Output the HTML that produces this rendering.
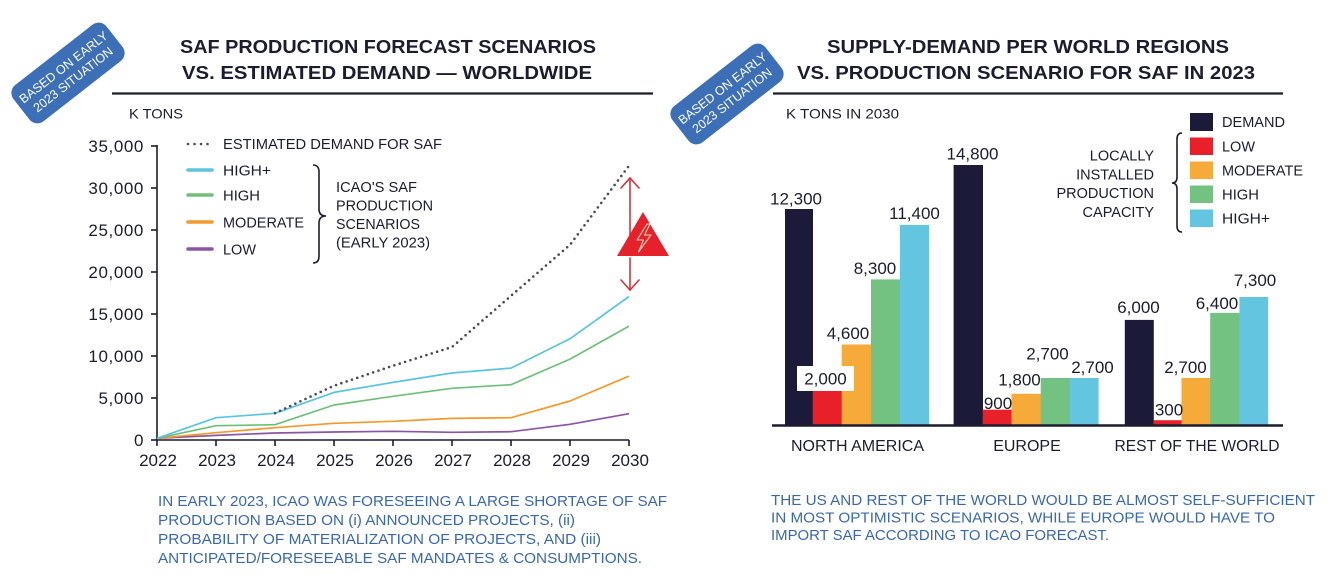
<!DOCTYPE html>
<html><head><meta charset="utf-8">
<style>
html,body{margin:0;padding:0;background:#fff;}
svg{display:block;}
text{font-family:"Liberation Sans",Arial,sans-serif;}
</style></head>
<body>
<svg width="1330" height="586" viewBox="0 0 1330 586" xmlns="http://www.w3.org/2000/svg">
<rect width="1330" height="586" fill="#fff"/>

<!-- ===== LEFT CHART ===== -->
<g transform="translate(68,73) rotate(-38)">
  <rect x="-59" y="-23" width="118" height="46" rx="10" fill="#3d6fb7"/>
  <text x="0" y="-3" text-anchor="middle" font-size="12.5" fill="#fff">BASED ON EARLY</text>
  <text x="0" y="12.5" text-anchor="middle" font-size="12.5" fill="#fff">2023 SITUATION</text>
</g>

<text x="180" y="53" font-size="18" font-weight="bold" fill="#1c1c30" textLength="416" lengthAdjust="spacingAndGlyphs">SAF PRODUCTION FORECAST SCENARIOS</text>
<text x="182" y="79" font-size="18" font-weight="bold" fill="#1c1c30" textLength="410" lengthAdjust="spacingAndGlyphs">VS. ESTIMATED DEMAND — WORLDWIDE</text>
<line x1="112" y1="93.5" x2="653" y2="93.5" stroke="#1c1c30" stroke-width="2.2"/>

<text x="129" y="118.5" font-size="14" fill="#1c1c30" textLength="54" lengthAdjust="spacingAndGlyphs">K TONS</text>

<g font-size="17" fill="#1c1c30" text-anchor="end" letter-spacing="0.6">
  <text x="144" y="152">35,000</text>
  <text x="144" y="194">30,000</text>
  <text x="144" y="236">25,000</text>
  <text x="144" y="278">20,000</text>
  <text x="144" y="320">15,000</text>
  <text x="144" y="362">10,000</text>
  <text x="144" y="404">5,000</text>
  <text x="144" y="446">0</text>
</g>
<g stroke="#1c1c30" stroke-width="1.6">
  <line x1="157" y1="145" x2="157" y2="446"/>
  <line x1="157" y1="440" x2="629" y2="440"/>
  <line x1="151" y1="146" x2="157" y2="146"/>
  <line x1="151" y1="188" x2="157" y2="188"/>
  <line x1="151" y1="230" x2="157" y2="230"/>
  <line x1="151" y1="272" x2="157" y2="272"/>
  <line x1="151" y1="314" x2="157" y2="314"/>
  <line x1="151" y1="356" x2="157" y2="356"/>
  <line x1="151" y1="398" x2="157" y2="398"/>
  <line x1="151" y1="440" x2="157" y2="440"/>
  <line x1="216" y1="440" x2="216" y2="446"/>
  <line x1="275" y1="440" x2="275" y2="446"/>
  <line x1="334" y1="440" x2="334" y2="446"/>
  <line x1="393" y1="440" x2="393" y2="446"/>
  <line x1="452" y1="440" x2="452" y2="446"/>
  <line x1="511" y1="440" x2="511" y2="446"/>
  <line x1="570" y1="440" x2="570" y2="446"/>
  <line x1="629" y1="440" x2="629" y2="446"/>
</g>
<g font-size="17" fill="#1c1c30" text-anchor="middle">
  <text x="158" y="466">2022</text>
  <text x="217" y="466">2023</text>
  <text x="276" y="466">2024</text>
  <text x="335" y="466">2025</text>
  <text x="394" y="466">2026</text>
  <text x="453" y="466">2027</text>
  <text x="512" y="466">2028</text>
  <text x="571" y="466">2029</text>
  <text x="630" y="466">2030</text>
</g>

<g fill="none" stroke-width="1.7" stroke-linejoin="round">
  <polyline stroke="#8b55a3" points="157,438.3 216,435.4 275,433 334,432 393,431.3 452,432.3 511,431.7 570,424.3 629,413.7"/>
  <polyline stroke="#f39a2b" points="157,438.3 216,432.7 275,427.7 334,423.3 393,421.3 452,418.4 511,417.7 570,401 629,376.1"/>
  <polyline stroke="#6fbf7a" points="157,438.3 216,425.7 275,424.7 334,405 393,396.3 452,388.3 511,384.7 570,359.1 629,326.1"/>
  <polyline stroke="#5bc4de" points="157,438.3 216,417.7 275,413.3 334,392.4 393,382.4 452,373 511,368.1 570,338.8 629,296.5"/>
  <polyline stroke="#4a4a5c" stroke-width="2.6" stroke-linecap="round" stroke-dasharray="0 5.6" points="275,413.1 334,385.7 393,365.7 452,347 511,295.8 570,244.8 629,165.7"/>
</g>

<g>
  <line x1="188" y1="144" x2="208" y2="144" stroke="#4a4a5c" stroke-width="2.6" stroke-linecap="round" stroke-dasharray="0 6.5"/>
  <text x="223" y="149" font-size="14.5" fill="#1c1c30" textLength="219" lengthAdjust="spacingAndGlyphs">ESTIMATED DEMAND FOR SAF</text>
  <line x1="188" y1="170" x2="212" y2="170" stroke="#5bc4de" stroke-width="3.5" stroke-linecap="round"/>
  <text x="223" y="175.5" font-size="14.5" fill="#1c1c30" textLength="48" lengthAdjust="spacingAndGlyphs">HIGH+</text>
  <line x1="188" y1="195" x2="212" y2="195" stroke="#6fbf7a" stroke-width="3.5" stroke-linecap="round"/>
  <text x="223" y="200.5" font-size="14.5" fill="#1c1c30" textLength="37" lengthAdjust="spacingAndGlyphs">HIGH</text>
  <line x1="188" y1="222" x2="212" y2="222" stroke="#f39a2b" stroke-width="3.5" stroke-linecap="round"/>
  <text x="223" y="227.5" font-size="14.5" fill="#1c1c30" textLength="81" lengthAdjust="spacingAndGlyphs">MODERATE</text>
  <line x1="188" y1="249" x2="212" y2="249" stroke="#8b55a3" stroke-width="3.5" stroke-linecap="round"/>
  <text x="223" y="254.5" font-size="14.5" fill="#1c1c30" textLength="33" lengthAdjust="spacingAndGlyphs">LOW</text>
  <path d="M313,165 Q319,165 319,172 L319,209 Q319,216 326,216 Q319,216 319,223 L319,256 Q319,263 313,263" fill="none" stroke="#1c1c30" stroke-width="1.6"/>
  <g font-size="14.5" fill="#1c1c30">
    <text x="336" y="192" textLength="81" lengthAdjust="spacingAndGlyphs">ICAO'S SAF</text>
    <text x="336" y="210.5" textLength="97" lengthAdjust="spacingAndGlyphs">PRODUCTION</text>
    <text x="336" y="229" textLength="84" lengthAdjust="spacingAndGlyphs">SCENARIOS</text>
    <text x="336" y="247.5" textLength="94" lengthAdjust="spacingAndGlyphs">(EARLY 2023)</text>
  </g>
</g>

<g stroke="#d9333a" stroke-width="1.6" fill="none" stroke-linecap="round">
  <line x1="630" y1="178" x2="630" y2="236"/>
  <polyline points="621,188 630,178 639,188"/>
  <line x1="630" y1="258" x2="630" y2="290"/>
  <polyline points="621,280 630,290 639,280"/>
</g>
<polygon points="643,212 617,256 669,256" fill="#e5212b"/>
<path d="M647,224 L637,240 L643.5,240 L638.5,252 L651,235 L644.5,235 L650,224 Z" fill="none" stroke="#f6d3b5" stroke-width="1.1" stroke-linejoin="round"/>

<g font-size="14.5" fill="#3a68ae">
  <text x="158" y="506" textLength="509" lengthAdjust="spacingAndGlyphs">IN EARLY 2023, ICAO WAS FORESEEING A LARGE SHORTAGE OF SAF</text>
  <text x="158" y="525" textLength="417" lengthAdjust="spacingAndGlyphs">PRODUCTION BASED ON (i) ANNOUNCED PROJECTS, (ii)</text>
  <text x="158" y="544" textLength="443" lengthAdjust="spacingAndGlyphs">PROBABILITY OF MATERIALIZATION OF PROJECTS, AND (iii)</text>
  <text x="158" y="563" textLength="484" lengthAdjust="spacingAndGlyphs">ANTICIPATED/FORESEEABLE SAF MANDATES &amp; CONSUMPTIONS.</text>
</g>

<!-- ===== RIGHT CHART ===== -->
<g transform="translate(727,94) rotate(-38)">
  <rect x="-59" y="-23" width="118" height="46" rx="10" fill="#3d6fb7"/>
  <text x="0" y="-3" text-anchor="middle" font-size="12.5" fill="#fff">BASED ON EARLY</text>
  <text x="0" y="12.5" text-anchor="middle" font-size="12.5" fill="#fff">2023 SITUATION</text>
</g>

<text x="827" y="53" font-size="18" font-weight="bold" fill="#1c1c30" textLength="402" lengthAdjust="spacingAndGlyphs">SUPPLY-DEMAND PER WORLD REGIONS</text>
<text x="797" y="79" font-size="18" font-weight="bold" fill="#1c1c30" textLength="458" lengthAdjust="spacingAndGlyphs">VS. PRODUCTION SCENARIO FOR SAF IN 2023</text>
<line x1="773" y1="93.5" x2="1283" y2="93.5" stroke="#1c1c30" stroke-width="2.2"/>

<text x="786" y="118.5" font-size="14" fill="#1c1c30" textLength="113" lengthAdjust="spacingAndGlyphs">K TONS IN 2030</text>

<g>
  <rect x="785" y="209" width="28" height="216.5" fill="#1b1a38"/>
  <rect x="812.7" y="390.3" width="29.3" height="35.2" fill="#e8202a"/>
  <rect x="841.7" y="344.5" width="29.6" height="81" fill="#f5aa3a"/>
  <rect x="871" y="279.4" width="29.3" height="146.1" fill="#73c282"/>
  <rect x="900" y="224.9" width="29" height="200.6" fill="#63c5e0"/>

  <rect x="953.6" y="165" width="29.4" height="260.5" fill="#1b1a38"/>
  <rect x="982.7" y="409.7" width="29.1" height="15.8" fill="#e8202a"/>
  <rect x="1011.5" y="393.8" width="29.5" height="31.7" fill="#f5aa3a"/>
  <rect x="1040.7" y="378" width="29.5" height="47.5" fill="#73c282"/>
  <rect x="1069.9" y="378" width="28.7" height="47.5" fill="#63c5e0"/>

  <rect x="1124.8" y="319.9" width="29" height="105.6" fill="#1b1a38"/>
  <rect x="1153.6" y="420.2" width="28.2" height="5.3" fill="#e8202a"/>
  <rect x="1181.5" y="378" width="29" height="47.5" fill="#f5aa3a"/>
  <rect x="1210.2" y="312.9" width="29.4" height="112.6" fill="#73c282"/>
  <rect x="1239.4" y="297" width="28.8" height="128.5" fill="#63c5e0"/>
</g>
<line x1="772" y1="425.5" x2="1283" y2="425.5" stroke="#1c1c30" stroke-width="2.5"/>

<rect x="797" y="366" width="57" height="25" fill="#fff"/>
<g font-size="17" fill="#1c1c30" text-anchor="middle">
  <text x="796" y="204.5">12,300</text>
  <text x="972.5" y="159.5">14,800</text>
  <text x="914.5" y="219">11,400</text>
  <text x="875" y="274">8,300</text>
  <text x="848" y="339">4,600</text>
  <text x="825.5" y="384.5">2,000</text>
  <text x="1047.5" y="359.5">2,700</text>
  <text x="1019.5" y="385.5">1,800</text>
  <text x="1092.5" y="373">2,700</text>
  <text x="998" y="409">900</text>
  <text x="1138.5" y="313">6,000</text>
  <text x="1169" y="415.5">300</text>
  <text x="1185.5" y="373">2,700</text>
  <text x="1217" y="309">6,400</text>
  <text x="1255" y="286">7,300</text>
</g>
<g font-size="16" fill="#1c1c30" text-anchor="middle">
  <text x="857.5" y="451">NORTH AMERICA</text>
  <text x="1027" y="451">EUROPE</text>
  <text x="1197" y="451" textLength="165" lengthAdjust="spacingAndGlyphs">REST OF THE WORLD</text>
</g>

<g>
  <rect x="1190" y="113" width="23" height="18" fill="#1b1a38"/>
  <rect x="1190" y="137.5" width="23" height="17.5" fill="#e8202a"/>
  <rect x="1190" y="161.5" width="23" height="17.5" fill="#f5aa3a"/>
  <rect x="1190" y="185.5" width="23" height="17.5" fill="#73c282"/>
  <rect x="1190" y="209.5" width="23" height="17.5" fill="#63c5e0"/>
  <g font-size="14.5" fill="#1c1c30">
    <text x="1222" y="127" textLength="63" lengthAdjust="spacingAndGlyphs">DEMAND</text>
    <text x="1222" y="151.5" textLength="33" lengthAdjust="spacingAndGlyphs">LOW</text>
    <text x="1222" y="175.5" textLength="81" lengthAdjust="spacingAndGlyphs">MODERATE</text>
    <text x="1222" y="199.5" textLength="37" lengthAdjust="spacingAndGlyphs">HIGH</text>
    <text x="1222" y="223.5" textLength="48" lengthAdjust="spacingAndGlyphs">HIGH+</text>
  </g>
  <path d="M1182,133 Q1177,133 1177,139 L1177,177 Q1177,183 1172,183 Q1177,183 1177,189 L1177,226 Q1177,232 1182,232" fill="none" stroke="#1c1c30" stroke-width="1.6"/>
  <g font-size="14.5" fill="#1c1c30" text-anchor="end">
    <text x="1154" y="160.5">LOCALLY</text>
    <text x="1154" y="179.5">INSTALLED</text>
    <text x="1154" y="198">PRODUCTION</text>
    <text x="1154" y="217">CAPACITY</text>
  </g>
</g>

<g font-size="14.5" fill="#3a68ae">
  <text x="771" y="505" textLength="544" lengthAdjust="spacingAndGlyphs">THE US AND REST OF THE WORLD WOULD BE ALMOST SELF-SUFFICIENT</text>
  <text x="771" y="522.5" textLength="504" lengthAdjust="spacingAndGlyphs">IN MOST OPTIMISTIC SCENARIOS, WHILE EUROPE WOULD HAVE TO</text>
  <text x="771" y="540" textLength="338" lengthAdjust="spacingAndGlyphs">IMPORT SAF ACCORDING TO ICAO FORECAST.</text>
</g>
</svg>
</body></html>
